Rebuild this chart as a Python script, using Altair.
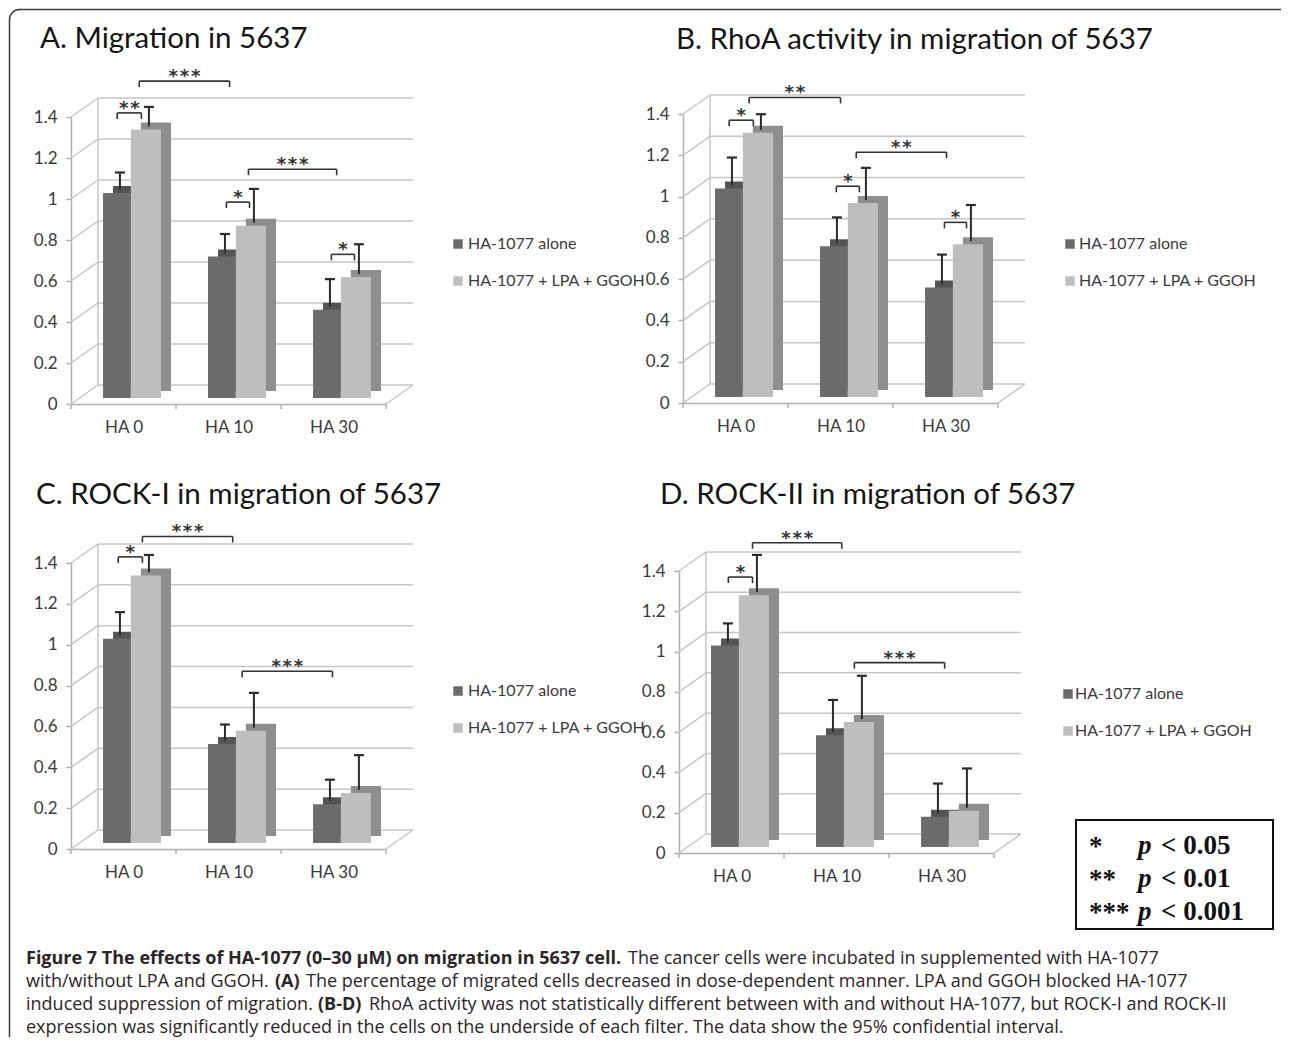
import altair as alt
import pandas as pd

# ---------------- data ----------------
categories = ["HA 0", "HA 10", "HA 30"]
series_names = ["HA-1077 alone", "HA-1077 + LPA + GGOH"]
y_ticks = [0, 0.2, 0.4, 0.6, 0.8, 1.0, 1.2, 1.4]
boundaries = [0, 1, 2, 3]

titles = ["A. Migration in 5637", "B. RhoA activity in migration of 5637",
          "C. ROCK-I in migration of 5637", "D. ROCK-II in migration of 5637"]

a_alone = [1.00, 0.69, 0.43]
a_combo = [1.31, 0.84, 0.59]
a_alone_ci = [1.10, 0.80, 0.58]
a_combo_ci = [1.42, 1.02, 0.75]
a_sig_from = [0.44, 0.65, 1.48, 1.69, 2.48]
a_sig_to = [0.67, 1.51, 1.70, 2.53, 2.70]
a_sig_level = [1.42, 1.575, 0.985, 1.145, 0.73]
a_sig_stars = ["**", "***", "*", "***", "*"]

b_alone = [1.01, 0.73, 0.53]
b_combo = [1.28, 0.94, 0.74]
b_alone_ci = [1.16, 0.87, 0.69]
b_combo_ci = [1.37, 1.11, 0.93]
b_sig_from = [0.44, 0.63, 1.46, 1.65, 2.49]
b_sig_to = [0.67, 1.50, 1.68, 2.51, 2.70]
b_sig_level = [1.37, 1.48, 1.05, 1.215, 0.875]
b_sig_stars = ["*", "**", "*", "**", "*"]

c_alone = [1.00, 0.485, 0.19]
c_combo = [1.31, 0.55, 0.245]
c_alone_ci = [1.13, 0.58, 0.31]
c_combo_ci = [1.41, 0.735, 0.43]
c_sig_from = [0.45, 0.68, 1.63]
c_sig_to = [0.68, 1.54, 2.49]
c_sig_level = [1.43, 1.53, 0.87]
c_sig_stars = ["*", "***", "***"]

d_alone = [1.00, 0.555, 0.15]
d_combo = [1.25, 0.62, 0.18]
d_alone_ci = [1.11, 0.73, 0.315]
d_combo_ci = [1.45, 0.85, 0.39]
d_sig_from = [0.47, 0.70, 1.67]
d_sig_to = [0.70, 1.55, 2.53]
d_sig_level = [1.37, 1.54, 0.945]
d_sig_stars = ["*", "***", "***"]

p_stars = ["*", "**", "***"]
p_thresholds = ["< 0.05", "< 0.01", "< 0.001"]

caption_l1_bold = "Figure 7 The effects of HA-1077 (0\u201330 \u03bcM) on migration in 5637 cell."
caption_l1_rest = "The cancer cells were incubated in supplemented with HA-1077"
caption_l2_head = "with/without LPA and GGOH."
caption_l2_bold = "(A)"
caption_l2_rest = "The percentage of migrated cells decreased in dose-dependent manner. LPA and GGOH blocked HA-1077"
caption_l3_head = "induced suppression of migration."
caption_l3_bold = "(B-D)"
caption_l3_rest = "RhoA activity was not statistically different between with and without HA-1077, but ROCK-I and ROCK-II"
caption_l4 = "expression was significantly reduced in the cells on the underside of each filter. The data show the 95% confidential interval."

# ---------------- style ----------------
FONT = "Lato"
CAP_FONT = "Open Sans"
SERIF = "Liberation Serif"
DARK, DARK_BACK = "#6b6b6b", "#545454"
LIGHT, LIGHT_BACK = "#bebebe", "#8e8e8e"
GRID = "#c6c6c6"
AXC = "#b0b0b0"
TXT = "#3a3a3a"
ERR = "#2b2b2b"
BR = "#333333"
DEPTH_X, DEPTH_Y = 10, -7
WALL_X, WALL_Y = 27, -19
BASE = -6
W, H = 315, 300
one = pd.DataFrame({"k": [0]})


def text_mark(txt, x, y, size, font=FONT, weight="normal", style="normal",
              align="left", baseline="alphabetic", color="#1a1a1a"):
    return alt.Chart(one).mark_text(
        font=font, fontSize=size, fontWeight=weight, fontStyle=style,
        align=align, baseline=baseline, color=color
    ).encode(x=alt.value(x), y=alt.value(y), text=alt.value(txt))


def build_panel(title, alone, combo, alone_ci, combo_ci, sfrom, sto, slevel, sstars,
                yr, xr0, title_xy, legend_xy, text_x, extra=()):
    rows = []
    for i, cat in enumerate(categories):
        for s, (vals, cis) in enumerate([(alone, alone_ci), (combo, combo_ci)]):
            rows.append({"idx": i, "cat": cat, "series": series_names[s], "s": s,
                         "value": vals[i], "ci": cis[i]})
    bars = pd.DataFrame(rows)

    xs = alt.Scale(domain=[0, 3], range=[xr0, xr0 + W], nice=False, zero=False)
    ys = alt.Scale(domain=[0, y_ticks[-1]], range=[yr[0], yr[1]], nice=False, zero=False)
    xax = alt.Axis(values=[0.5, 1.5, 2.5], labelExpr=f"{categories}[floor(datum.value)]",
                   ticks=False, tickSize=0, grid=False, domainColor=AXC, domainWidth=1.5,
                   labelFont=FONT, labelFontSize=17, labelColor=TXT, labelPadding=15,
                   offset=yr[0] - H, title=None)
    yax = alt.Axis(values=y_ticks, format="~g", grid=False, tickSize=5, tickColor=AXC,
                   tickWidth=1.5, domainColor=AXC, domainWidth=1.5, labelFont=FONT,
                   labelFontSize=17, labelColor=TXT, labelPadding=9, offset=-xr0, title=None)

    def X(f):
        return alt.X(f, type="quantitative", scale=xs, axis=xax, title=None)

    def Y(f):
        return alt.Y(f, type="quantitative", scale=ys, axis=yax, title=None)

    base = alt.Chart(bars).transform_calculate(
        x0="datum.idx + (datum.s == 0 ? 0.305 : 0.57)",
        x1="datum.idx + (datum.s == 0 ? 0.57 : 0.857)",
        xc="datum.idx + (datum.s == 0 ? 0.4375 : 0.7135)",
        zero="0",
        fcol=f"datum.s == 0 ? '{DARK}' : '{LIGHT}'",
        bcol=f"datum.s == 0 ? '{DARK_BACK}' : '{LIGHT_BACK}'",
    )

    # back wall grid, left wall edges, floor
    gbase = alt.Chart(pd.DataFrame({"tick": y_ticks})).transform_calculate(left="0", right="3")
    back_grid = gbase.mark_rule(color=GRID, strokeWidth=1.5, xOffset=WALL_X, x2Offset=WALL_X,
                                yOffset=WALL_Y, y2Offset=WALL_Y).encode(
        x=X("left"), x2="right:Q", y=Y("tick"), y2="tick:Q")
    diag = gbase.mark_rule(color=GRID, strokeWidth=1.5, x2Offset=WALL_X, y2Offset=WALL_Y).encode(
        x=X("left"), x2="left:Q", y=Y("tick"), y2="tick:Q")
    frame_base = alt.Chart(one).transform_calculate(left="0", right="3", lo="0", hi=str(y_ticks[-1]))
    wall_vert = frame_base.mark_rule(color=GRID, strokeWidth=1.5, xOffset=WALL_X,
                                     yOffset=WALL_Y, y2Offset=WALL_Y).encode(
        x=X("left"), y=Y("lo"), y2="hi:Q")
    floor_right = frame_base.mark_rule(color=GRID, strokeWidth=1.5, x2Offset=WALL_X, y2Offset=WALL_Y).encode(
        x=X("right"), x2="right:Q", y=Y("lo"), y2="lo:Q")
    floor_ticks = alt.Chart(pd.DataFrame({"b": boundaries})).transform_calculate(lo="0").mark_rule(
        color=AXC, strokeWidth=1.5, y2Offset=5).encode(x=X("b"), y=Y("lo"), y2="lo:Q")

    # bars: depth faces, then front faces
    back = base.mark_rect(xOffset=DEPTH_X, x2Offset=DEPTH_X, yOffset=BASE + DEPTH_Y,
                          y2Offset=BASE + DEPTH_Y).encode(
        x=X("x0"), x2="x1:Q", y=Y("value"), y2="zero:Q",
        color=alt.Color("bcol:N", scale=None))
    front = base.mark_rect(yOffset=BASE, y2Offset=BASE).encode(
        x=X("x0"), x2="x1:Q", y=Y("value"), y2="zero:Q",
        color=alt.Color("fcol:N", scale=None))

    # confidence interval bars
    err = base.mark_rule(color=ERR, strokeWidth=2, xOffset=3, yOffset=BASE - 3, y2Offset=BASE).encode(
        x=X("xc"), y=Y("value"), y2="ci:Q")
    cap = base.mark_rule(color=ERR, strokeWidth=2.2, xOffset=-2, x2Offset=8, yOffset=BASE,
                         y2Offset=BASE).encode(x=X("xc"), x2="xc:Q", y=Y("ci"), y2="ci:Q")

    # significance brackets
    sig = pd.DataFrame({"x1": sfrom, "x2": sto, "lvl": slevel, "stars": sstars})
    hline = alt.Chart(sig).mark_rule(color=BR, strokeWidth=1.6).encode(
        x=X("x1"), x2="x2:Q", y=Y("lvl"))
    ends = alt.Chart(sig).transform_fold(["x1", "x2"], as_=["end", "xe"]).mark_rule(
        color=BR, strokeWidth=1.6, y2Offset=6).encode(x=X("xe"), y=Y("lvl"), y2="lvl:Q")
    stars = alt.Chart(sig).transform_calculate(
        xm="(datum.x1 + datum.x2) / 2",
        st="join(split(datum.stars, ''), '\u200a')").mark_text(
        font="DejaVu Sans", fontSize=18, fontWeight="bold", baseline="alphabetic", dy=1,
        color=BR).encode(x=X("xm"), y=Y("lvl"), text="st:N")

    # legend
    legend = []
    cols = [DARK, LIGHT]
    for s, name in enumerate(series_names):
        ly = legend_xy[1] + s * 37
        legend.append(alt.Chart(one).mark_square(size=90, color=cols[s], opacity=1).encode(
            x=alt.value(legend_xy[0]), y=alt.value(ly)))
        legend.append(text_mark(name, text_x, ly, 16, baseline="middle", color=TXT))

    ttl = text_mark(title, title_xy[0], title_xy[1], 29.5, color="#151515")

    layers = [back_grid, diag, wall_vert, floor_right, floor_ticks, back, front, err, cap,
              hline, ends, stars, ttl] + legend + list(extra)
    return alt.layer(*layers).properties(width=W, height=H)


# frame around the figure (drawn from panel A, whose origin is at canvas (62, 100))
frame = [
    alt.Chart(one).mark_rule(color="#3c3c3c", strokeWidth=1.5).encode(
        x=alt.value(-52), x2=alt.value(1210), y=alt.value(-99.5)),
    alt.Chart(one).mark_rule(color="#3c3c3c", strokeWidth=1.5).encode(
        x=alt.value(-61.5), y=alt.value(-90), y2=alt.value(928)),
    alt.Chart(one).mark_arc(radius=10.75, radius2=9.25, theta=4.7124, theta2=6.2832,
                            color="#3c3c3c").encode(x=alt.value(-51.5), y=alt.value(-89.5)),
]

# p-value key (drawn from panel D, origin at canvas (674, 548))
pbox = [alt.Chart(one).mark_rect(fill="white", stroke="#111111", strokeWidth=2).encode(
    x=alt.value(393), x2=alt.value(590), y=alt.value(263), y2=alt.value(372))]
for k in range(3):
    yy = 288 + k * 33
    pbox.append(text_mark(p_stars[k], 406, yy + 10, 27, font=SERIF, weight="bold", color="#111"))
    pbox.append(text_mark("p", 455, yy + 9, 27, font=SERIF, weight="bold", style="italic", color="#111"))
    pbox.append(text_mark(p_thresholds[k], 478, yy + 9, 27, font=SERIF, weight="bold", color="#111"))

pA = build_panel(titles[0], a_alone, a_combo, a_alone_ci, a_combo_ci,
                 a_sig_from, a_sig_to, a_sig_level, a_sig_stars,
                 yr=(295, 8), xr0=0, title_xy=(-31, -61), legend_xy=(387, 135), text_x=397, extra=frame)
pB = build_panel(titles[1], b_alone, b_combo, b_alone_ci, b_combo_ci,
                 b_sig_from, b_sig_to, b_sig_level, b_sig_stars,
                 yr=(294, 5), xr0=0, title_xy=(-7, -60), legend_xy=(387, 135), text_x=396)
pC = build_panel(titles[2], c_alone, c_combo, c_alone_ci, c_combo_ci,
                 c_sig_from, c_sig_to, c_sig_level, c_sig_stars,
                 yr=(292, 6), xr0=0, title_xy=(-35, -53), legend_xy=(387, 134), text_x=397)
pD = build_panel(titles[3], d_alone, d_combo, d_alone_ci, d_combo_ci,
                 d_sig_from, d_sig_to, d_sig_level, d_sig_stars,
                 yr=(296, 14), xr0=-4, title_xy=(-23, -53), legend_xy=(385, 137), text_x=392, extra=pbox)

# caption (cell origin at canvas (62, 996))
CAPC = "#2a2627"
CS = 18
cap_layers = [
    text_mark(caption_l1_bold, -45, -46, CS, font=CAP_FONT, weight="bold", baseline="middle", color=CAPC),
    text_mark(caption_l1_rest, 557, -46, CS, font=CAP_FONT, baseline="middle", color=CAPC),
    text_mark(caption_l2_head, -45, -23, CS, font=CAP_FONT, baseline="middle", color=CAPC),
    text_mark(caption_l2_bold, 204, -23, CS, font=CAP_FONT, weight="bold", baseline="middle", color=CAPC),
    text_mark(caption_l2_rest, 235, -23, CS, font=CAP_FONT, baseline="middle", color=CAPC),
    text_mark(caption_l3_head, -45, 0, CS, font=CAP_FONT, baseline="middle", color=CAPC),
    text_mark(caption_l3_bold, 247, 0, CS, font=CAP_FONT, weight="bold", baseline="middle", color=CAPC),
    text_mark(caption_l3_rest, 298, 0, CS, font=CAP_FONT, baseline="middle", color=CAPC),
    text_mark(caption_l4, -45, 23, CS, font=CAP_FONT, baseline="middle", color=CAPC),
]
caption = alt.layer(*cap_layers).properties(width=W, height=10)

chart = alt.concat(pA, pB, pC, pD, caption, columns=2, spacing={"row": 148, "column": 297},
                   bounds="flush", align="each").properties(
    padding=0, background="white").configure_view(stroke=None)

chart.save("out.html", embed_options={"renderer": "svg", "actions": False})
